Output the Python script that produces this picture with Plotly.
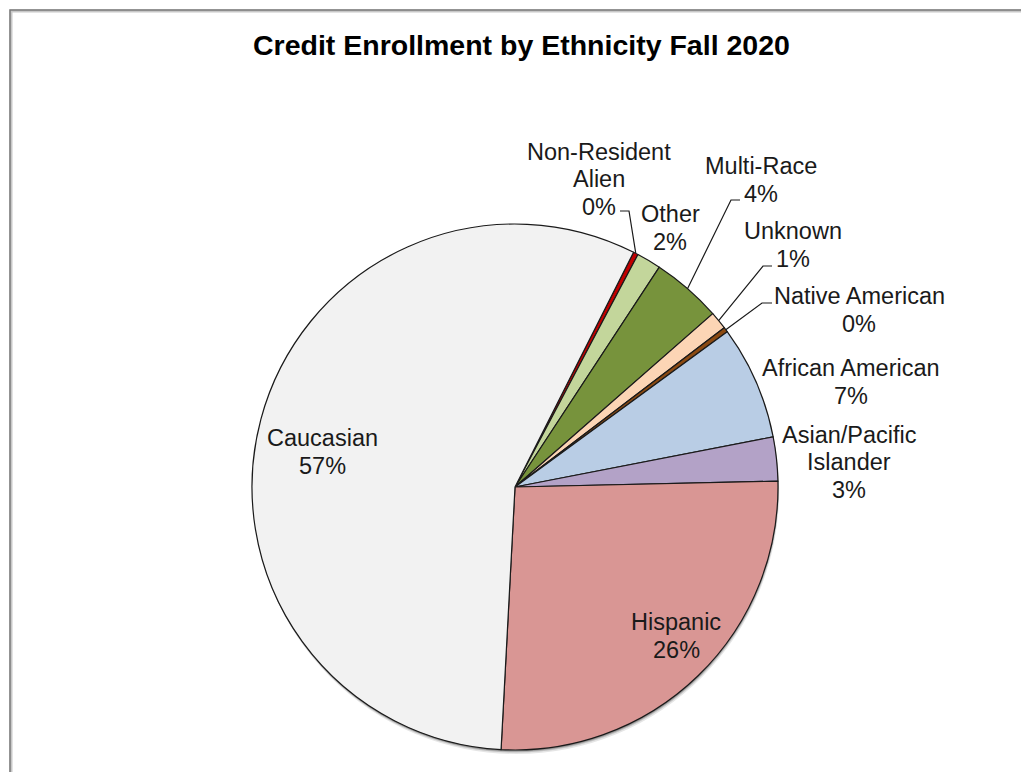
import math
import plotly.graph_objects as go

# Fall 2020 credit enrollment shares by ethnicity (percent of headcount),
# listed clockwise starting just right of 12 o'clock
categories = [
    "Non-Resident Alien", "Other", "Multi-Race", "Unknown", "Native American",
    "African American", "Asian/Pacific Islander", "Hispanic", "Caucasian",
]
shares = [0.3, 1.5, 4.3, 1.1, 0.3, 7.0, 2.7, 26.2, 56.6]
display_lines = [
    ["Non-Resident", "Alien"], ["Other"], ["Multi-Race"], ["Unknown"],
    ["Native American"], ["African American"], ["Asian/Pacific", "Islander"],
    ["Hispanic"], ["Caucasian"],
]

colors = [
    "#C00000", "#C3D69B", "#77933C", "#FCD5B5", "#8B4A12",
    "#B9CDE5", "#B3A2C7", "#D99694", "#F2F2F2",
]

W, H = 1021, 772
CX, CY, R = 515, 487, 263          # pie centre / radius in page pixels
START_ANGLE = 26.8                 # clockwise from 12 o'clock
FONT = "'Liberation Sans', Arial, Helvetica, sans-serif"
LABEL_SIZE = 23.5
LINE_STEP = 27.5


def px(x):
    return x / W


def py(y):
    return 1 - y / H


def pct_text(v):
    total = sum(shares)
    return f"{int(math.floor(v / total * 100 + 0.5))}%"


# mid-angle of every slice, derived from the shares
mid_angles = []
acc = START_ANGLE
for v in shares:
    span = v / sum(shares) * 360
    mid_angles.append(acc + span / 2)
    acc += span


def edge_point(i):
    a = math.radians(mid_angles[i])
    return CX + R * math.sin(a), CY - R * math.cos(a)


# label centres (page pixels) and optional leader-line elbow/end points
label_layout = {
    "Non-Resident Alien": dict(pos=(599, 179), leader=((629, 211), (620, 211))),
    "Other": dict(pos=(670, 228)),
    "Multi-Race": dict(pos=(761, 180), leader=((731, 200), (740, 200))),
    "Unknown": dict(pos=(793, 245), leader=((763, 266), (772, 266))),
    "Native American": dict(pos=(859, 310), leader=((762, 303), (772, 303))),
    "African American": dict(pos=(851, 382)),
    "Asian/Pacific Islander": dict(pos=(849, 462)),
    "Hispanic": dict(pos=(676, 636)),
    "Caucasian": dict(pos=(322, 452)),
}

fig = go.Figure()

fig.add_trace(go.Pie(
    labels=categories,
    values=shares,
    sort=False,
    direction="clockwise",
    rotation=START_ANGLE,
    marker=dict(colors=colors, line=dict(color="#1a1a1a", width=1.2)),
    textinfo="none",
    hoverinfo="label+percent",
    showlegend=False,
    domain=dict(x=[px(CX - R), px(CX + R)], y=[py(CY + R), py(CY - R)]),
))

shapes = []
# chart frame (top and left edges visible, box runs off the page)
shapes.append(dict(type="rect", xref="paper", yref="paper",
                   x0=px(11), y0=py(11), x1=px(W + 20), y1=py(H + 20),
                   line=dict(color="#C8C8C8", width=3), layer="below"))
shapes.append(dict(type="rect", xref="paper", yref="paper",
                   x0=px(10), y0=py(10), x1=px(W + 20), y1=py(H + 20),
                   line=dict(color="#7A7A7A", width=1.5), layer="below"))
# soft shadow under the pie
for off, op in [(4, 0.10), (2.5, 0.16), (1.5, 0.22)]:
    shapes.append(dict(type="circle", xref="paper", yref="paper",
                       x0=px(CX - R + off * 0.3), x1=px(CX + R + off * 0.3),
                       y0=py(CY + R + off), y1=py(CY - R + off),
                       line=dict(width=0), fillcolor=f"rgba(0,0,0,{op})",
                       layer="below"))

annotations = [dict(
    text="<b>Credit Enrollment by Ethnicity Fall 2020</b>",
    x=px(521), y=py(45), xref="paper", yref="paper",
    showarrow=False, font=dict(family=FONT, size=28.5, color="#000000"),
    xanchor="center", yanchor="middle",
)]

for i, cat in enumerate(categories):
    spec = label_layout[cat]
    lx, ly = spec["pos"]
    lines = display_lines[i] + [pct_text(shares[i])]
    top = ly - LINE_STEP * (len(lines) - 1) / 2
    for k, line in enumerate(lines):
        annotations.append(dict(
            text=line,
            x=px(lx), y=py(top + k * LINE_STEP), xref="paper", yref="paper",
            showarrow=False, align="center",
            font=dict(family=FONT, size=LABEL_SIZE, color="#1a1a1a"),
            xanchor="center", yanchor="middle",
        ))
    if "leader" in spec:
        ex, ey = edge_point(i)
        (bx, by), (tx, ty) = spec["leader"]
        path = (f"M {px(ex)},{py(ey)} L {px(bx)},{py(by)} "
                f"L {px(tx)},{py(ty)}")
        shapes.append(dict(type="path", xref="paper", yref="paper",
                           path=path, line=dict(color="#1a1a1a", width=1.2)))

fig.update_layout(
    width=W, height=H,
    margin=dict(l=0, r=0, t=0, b=0),
    paper_bgcolor="#FFFFFF",
    plot_bgcolor="#FFFFFF",
    shapes=shapes,
    annotations=annotations,
)

fig.write_html("out.html", config=dict(displayModeBar=False))
